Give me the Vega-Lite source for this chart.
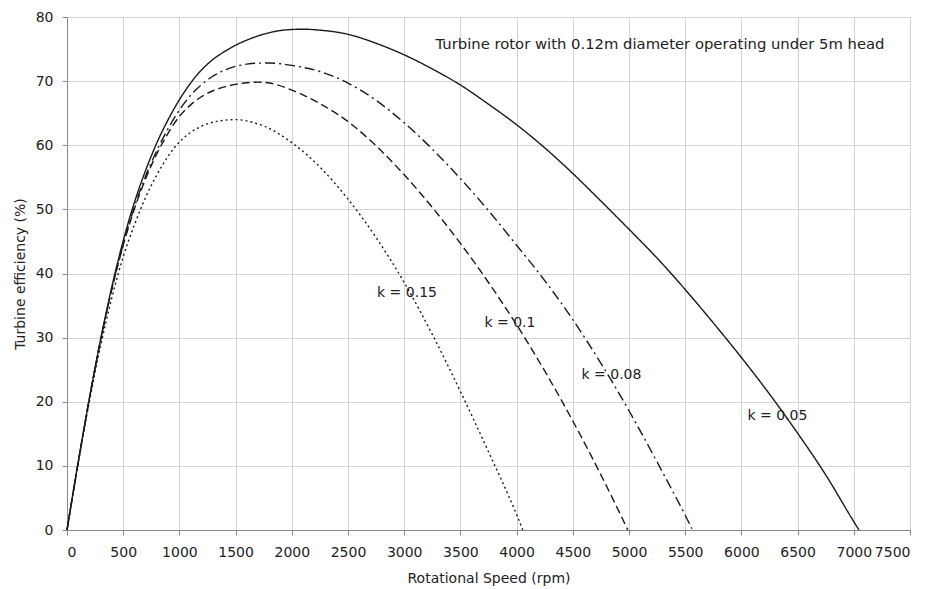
{
  "$schema": "https://vega.github.io/schema/vega-lite/v6.json",
  "width": 843,
  "height": 513,
  "autosize": {"type": "none"},
  "padding": {"left": 67, "top": 17, "right": 22, "bottom": 59},
  "background": "white",
  "config": {
    "font": "DejaVu Sans",
    "view": {"stroke": "#b8b8b8", "strokeWidth": 1},
    "axis": {
      "gridColor": "#d4d4d4",
      "gridWidth": 1,
      "domainColor": "#888888",
      "tickColor": "#888888",
      "tickSize": 5,
      "labelFont": "DejaVu Sans",
      "labelFontSize": 14,
      "labelColor": "#222222",
      "titleFont": "DejaVu Sans",
      "titleFontSize": 14,
      "titleFontWeight": "normal",
      "titleColor": "#222222"
    }
  },
  "datasets": {
    "curves": [
      {"k": "0.05", "rpm": 0, "eff": 0}, {"k": "0.05", "rpm": 100, "eff": 10.6}, {"k": "0.05", "rpm": 200, "eff": 20.6}, {"k": "0.05", "rpm": 300, "eff": 29.8}, {"k": "0.05", "rpm": 400, "eff": 38.0}, {"k": "0.05", "rpm": 500, "eff": 45.1}, {"k": "0.05", "rpm": 600, "eff": 51.1}, {"k": "0.05", "rpm": 700, "eff": 56.1}, {"k": "0.05", "rpm": 800, "eff": 60.4}, {"k": "0.05", "rpm": 900, "eff": 64.0}, {"k": "0.05", "rpm": 1000, "eff": 67.1}, {"k": "0.05", "rpm": 1100, "eff": 69.7}, {"k": "0.05", "rpm": 1200, "eff": 71.8}, {"k": "0.05", "rpm": 1300, "eff": 73.4}, {"k": "0.05", "rpm": 1400, "eff": 74.6}, {"k": "0.05", "rpm": 1500, "eff": 75.6}, {"k": "0.05", "rpm": 1600, "eff": 76.4}, {"k": "0.05", "rpm": 1700, "eff": 77.05}, {"k": "0.05", "rpm": 1800, "eff": 77.55}, {"k": "0.05", "rpm": 1900, "eff": 77.9}, {"k": "0.05", "rpm": 2000, "eff": 78.05}, {"k": "0.05", "rpm": 2100, "eff": 78.1}, {"k": "0.05", "rpm": 2250, "eff": 77.95}, {"k": "0.05", "rpm": 2500, "eff": 77.3}, {"k": "0.05", "rpm": 2750, "eff": 75.9}, {"k": "0.05", "rpm": 3000, "eff": 74.1}, {"k": "0.05", "rpm": 3250, "eff": 71.9}, {"k": "0.05", "rpm": 3500, "eff": 69.4}, {"k": "0.05", "rpm": 3750, "eff": 66.4}, {"k": "0.05", "rpm": 4000, "eff": 63.2}, {"k": "0.05", "rpm": 4250, "eff": 59.6}, {"k": "0.05", "rpm": 4500, "eff": 55.6}, {"k": "0.05", "rpm": 4750, "eff": 51.3}, {"k": "0.05", "rpm": 5000, "eff": 46.9}, {"k": "0.05", "rpm": 5250, "eff": 42.4}, {"k": "0.05", "rpm": 5500, "eff": 37.5}, {"k": "0.05", "rpm": 5750, "eff": 32.3}, {"k": "0.05", "rpm": 6000, "eff": 26.9}, {"k": "0.05", "rpm": 6250, "eff": 21.2}, {"k": "0.05", "rpm": 6500, "eff": 15.1}, {"k": "0.05", "rpm": 6750, "eff": 8.6}, {"k": "0.05", "rpm": 7000, "eff": 1.3}, {"k": "0.05", "rpm": 7046, "eff": 0},
      {"k": "0.08", "rpm": 0, "eff": 0}, {"k": "0.08", "rpm": 100, "eff": 10.6}, {"k": "0.08", "rpm": 200, "eff": 20.6}, {"k": "0.08", "rpm": 300, "eff": 29.7}, {"k": "0.08", "rpm": 400, "eff": 37.7}, {"k": "0.08", "rpm": 500, "eff": 44.6}, {"k": "0.08", "rpm": 600, "eff": 50.4}, {"k": "0.08", "rpm": 700, "eff": 55.2}, {"k": "0.08", "rpm": 800, "eff": 59.2}, {"k": "0.08", "rpm": 900, "eff": 62.6}, {"k": "0.08", "rpm": 1000, "eff": 65.5}, {"k": "0.08", "rpm": 1100, "eff": 67.8}, {"k": "0.08", "rpm": 1200, "eff": 69.5}, {"k": "0.08", "rpm": 1300, "eff": 70.8}, {"k": "0.08", "rpm": 1400, "eff": 71.7}, {"k": "0.08", "rpm": 1500, "eff": 72.3}, {"k": "0.08", "rpm": 1600, "eff": 72.65}, {"k": "0.08", "rpm": 1700, "eff": 72.8}, {"k": "0.08", "rpm": 1800, "eff": 72.82}, {"k": "0.08", "rpm": 1900, "eff": 72.7}, {"k": "0.08", "rpm": 2000, "eff": 72.45}, {"k": "0.08", "rpm": 2250, "eff": 71.5}, {"k": "0.08", "rpm": 2500, "eff": 69.7}, {"k": "0.08", "rpm": 2750, "eff": 67.0}, {"k": "0.08", "rpm": 3000, "eff": 63.5}, {"k": "0.08", "rpm": 3250, "eff": 59.4}, {"k": "0.08", "rpm": 3500, "eff": 54.8}, {"k": "0.08", "rpm": 3750, "eff": 49.8}, {"k": "0.08", "rpm": 4000, "eff": 44.4}, {"k": "0.08", "rpm": 4250, "eff": 38.9}, {"k": "0.08", "rpm": 4500, "eff": 32.8}, {"k": "0.08", "rpm": 4750, "eff": 26.0}, {"k": "0.08", "rpm": 5000, "eff": 18.6}, {"k": "0.08", "rpm": 5250, "eff": 10.6}, {"k": "0.08", "rpm": 5500, "eff": 2.3}, {"k": "0.08", "rpm": 5560, "eff": 0.2},
      {"k": "0.1", "rpm": 0, "eff": 0}, {"k": "0.1", "rpm": 100, "eff": 10.6}, {"k": "0.1", "rpm": 200, "eff": 20.6}, {"k": "0.1", "rpm": 300, "eff": 29.7}, {"k": "0.1", "rpm": 400, "eff": 37.6}, {"k": "0.1", "rpm": 500, "eff": 44.4}, {"k": "0.1", "rpm": 600, "eff": 50.1}, {"k": "0.1", "rpm": 700, "eff": 54.8}, {"k": "0.1", "rpm": 800, "eff": 58.7}, {"k": "0.1", "rpm": 900, "eff": 61.9}, {"k": "0.1", "rpm": 1000, "eff": 64.5}, {"k": "0.1", "rpm": 1100, "eff": 66.3}, {"k": "0.1", "rpm": 1200, "eff": 67.6}, {"k": "0.1", "rpm": 1300, "eff": 68.5}, {"k": "0.1", "rpm": 1400, "eff": 69.1}, {"k": "0.1", "rpm": 1500, "eff": 69.5}, {"k": "0.1", "rpm": 1600, "eff": 69.75}, {"k": "0.1", "rpm": 1700, "eff": 69.85}, {"k": "0.1", "rpm": 1800, "eff": 69.7}, {"k": "0.1", "rpm": 2000, "eff": 68.6}, {"k": "0.1", "rpm": 2250, "eff": 66.5}, {"k": "0.1", "rpm": 2500, "eff": 63.7}, {"k": "0.1", "rpm": 2750, "eff": 59.9}, {"k": "0.1", "rpm": 3000, "eff": 55.4}, {"k": "0.1", "rpm": 3250, "eff": 50.3}, {"k": "0.1", "rpm": 3500, "eff": 44.7}, {"k": "0.1", "rpm": 3750, "eff": 38.6}, {"k": "0.1", "rpm": 4000, "eff": 32.0}, {"k": "0.1", "rpm": 4250, "eff": 24.8}, {"k": "0.1", "rpm": 4500, "eff": 17.0}, {"k": "0.1", "rpm": 4750, "eff": 8.6}, {"k": "0.1", "rpm": 4990, "eff": 0},
      {"k": "0.15", "rpm": 0, "eff": 0}, {"k": "0.15", "rpm": 100, "eff": 10.4}, {"k": "0.15", "rpm": 200, "eff": 20.1}, {"k": "0.15", "rpm": 300, "eff": 28.8}, {"k": "0.15", "rpm": 400, "eff": 36.3}, {"k": "0.15", "rpm": 500, "eff": 42.6}, {"k": "0.15", "rpm": 600, "eff": 47.6}, {"k": "0.15", "rpm": 700, "eff": 51.9}, {"k": "0.15", "rpm": 800, "eff": 55.4}, {"k": "0.15", "rpm": 900, "eff": 58.3}, {"k": "0.15", "rpm": 1000, "eff": 60.5}, {"k": "0.15", "rpm": 1100, "eff": 62.0}, {"k": "0.15", "rpm": 1200, "eff": 63.0}, {"k": "0.15", "rpm": 1300, "eff": 63.6}, {"k": "0.15", "rpm": 1400, "eff": 63.9}, {"k": "0.15", "rpm": 1500, "eff": 64.0}, {"k": "0.15", "rpm": 1600, "eff": 63.8}, {"k": "0.15", "rpm": 1700, "eff": 63.3}, {"k": "0.15", "rpm": 1750, "eff": 63.0}, {"k": "0.15", "rpm": 2000, "eff": 60.4}, {"k": "0.15", "rpm": 2250, "eff": 56.6}, {"k": "0.15", "rpm": 2500, "eff": 51.6}, {"k": "0.15", "rpm": 2750, "eff": 45.6}, {"k": "0.15", "rpm": 3000, "eff": 38.6}, {"k": "0.15", "rpm": 3250, "eff": 30.5}, {"k": "0.15", "rpm": 3500, "eff": 21.6}, {"k": "0.15", "rpm": 3750, "eff": 12.2}, {"k": "0.15", "rpm": 4000, "eff": 2.4}, {"k": "0.15", "rpm": 4055, "eff": 0}
    ],
    "labels": [
      {"text": "k = 0.15", "rpm": 3025, "eff": 37, "size": 14},
      {"text": "k = 0.1", "rpm": 3941, "eff": 32.3, "size": 14},
      {"text": "k = 0.08", "rpm": 4844, "eff": 24.2, "size": 14},
      {"text": "k = 0.05", "rpm": 6321, "eff": 17.7, "size": 14},
      {"text": "Turbine rotor with 0.12m diameter operating under 5m head", "rpm": 5276, "eff": 75.6, "size": 14.8}
    ]
  },
  "layer": [
    {
      "data": {"name": "curves"},
      "mark": {"type": "line", "interpolate": "monotone", "strokeWidth": 1.4, "color": "#1a1a1a"},
      "encoding": {
        "x": {
          "field": "rpm", "type": "quantitative",
          "scale": {"domain": [0, 7500], "nice": false},
          "axis": {"values": [0, 500, 1000, 1500, 2000, 2500, 3000, 3500, 4000, 4500, 5000, 5500, 6000, 6500, 7000, 7500], "title": "Rotational Speed (rpm)", "labelPadding": 10, "titlePadding": 12, "format": "d"}
        },
        "y": {
          "field": "eff", "type": "quantitative",
          "scale": {"domain": [0, 80], "nice": false},
          "axis": {"values": [0, 10, 20, 30, 40, 50, 60, 70, 80], "title": "Turbine efficiency (%)", "labelPadding": 9, "titlePadding": 8}
        },
        "strokeDash": {
          "field": "k", "type": "nominal",
          "scale": {"domain": ["0.05", "0.08", "0.1", "0.15"], "range": [[1, 0], [10, 4, 2, 4], [8, 4], [2, 3]]},
          "legend": null
        },
        "detail": {"field": "k"}
      }
    },
    {
      "data": {"name": "labels"},
      "mark": {"type": "text", "font": "DejaVu Sans", "color": "#222222", "align": "center", "baseline": "middle"},
      "encoding": {
        "x": {"field": "rpm", "type": "quantitative"},
        "y": {"field": "eff", "type": "quantitative"},
        "text": {"field": "text"},
        "size": {"field": "size", "type": "quantitative", "scale": null, "legend": null}
      }
    }
  ]
}
